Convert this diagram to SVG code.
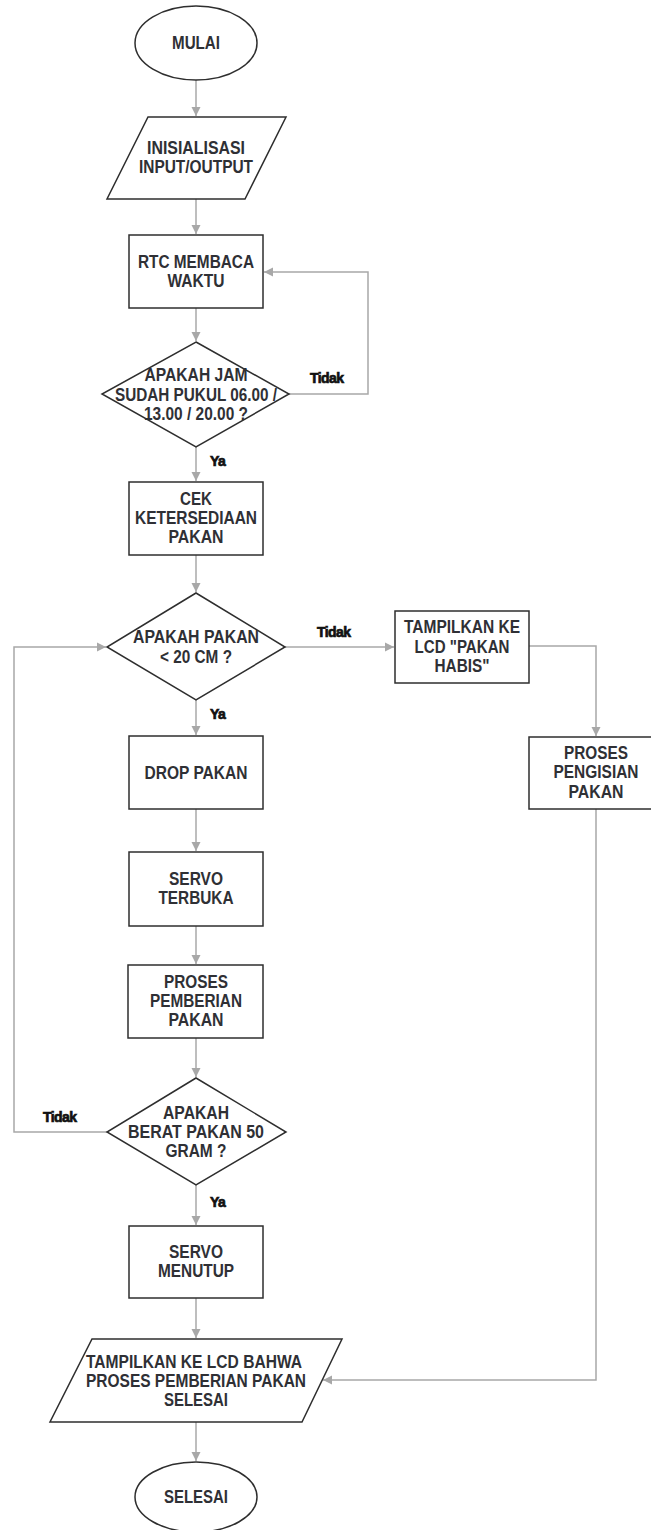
<svg xmlns="http://www.w3.org/2000/svg" width="651" height="1530" viewBox="0 0 651 1530">
<style>
.s{fill:#fff;stroke:#2e2e2e;stroke-width:1.5}
.t{font-family:"Liberation Sans",Arial,sans-serif;font-size:18px;font-weight:bold;fill:#2f3035;text-anchor:middle}
.c{fill:none;stroke:#a8a8a8;stroke-width:1.5}
.l{font-family:"Liberation Sans",Arial,sans-serif;font-size:14px;font-weight:bold;fill:#111;stroke:#111;stroke-width:0.7;letter-spacing:-0.6px}
</style>
<defs>
<marker id="a" markerUnits="userSpaceOnUse" markerWidth="10" markerHeight="10" refX="9" refY="5" orient="auto">
<path d="M0,0.5 L9,5 L0,9.5 z" fill="#a8a8a8"/>
</marker>
</defs>
<rect width="651" height="1530" fill="#fff"/>
<g id="connectors">
<path class="c" d="M196,80 V116" marker-end="url(#a)"/>
<path class="c" d="M196,199 V234" marker-end="url(#a)"/>
<path class="c" d="M196,308 V341" marker-end="url(#a)"/>
<path class="c" d="M289,394 H368 V272 H264" marker-end="url(#a)"/>
<path class="c" d="M196,447 V481" marker-end="url(#a)"/>
<path class="c" d="M196,555 V592" marker-end="url(#a)"/>
<path class="c" d="M285,647 H394" marker-end="url(#a)"/>
<path class="c" d="M529,646 H596 V736" marker-end="url(#a)"/>
<path class="c" d="M196,700 V735" marker-end="url(#a)"/>
<path class="c" d="M196,809 V851" marker-end="url(#a)"/>
<path class="c" d="M196,926 V964" marker-end="url(#a)"/>
<path class="c" d="M196,1038 V1077" marker-end="url(#a)"/>
<path class="c" d="M107,1132 H14 V647 H106" marker-end="url(#a)"/>
<path class="c" d="M196,1185 V1225" marker-end="url(#a)"/>
<path class="c" d="M196,1298 V1338" marker-end="url(#a)"/>
<path class="c" d="M596,809 V1380 H323" marker-end="url(#a)"/>
<path class="c" d="M196,1422 V1461" marker-end="url(#a)"/>
<text class="l" x="310" y="383">Tidak</text>
<text class="l" x="317" y="637">Tidak</text>
<text class="l" x="43" y="1122">Tidak</text>
<text class="l" x="210" y="466">Ya</text>
<text class="l" x="210" y="719">Ya</text>
<text class="l" x="210" y="1207">Ya</text>
</g>
<g id="mulai">
<ellipse class="s" cx="196" cy="43" rx="61" ry="37"/>
<text class="t" x="196" y="49" textLength="48" lengthAdjust="spacingAndGlyphs">MULAI</text>
</g>
<g id="inisialisasi">
<polygon class="s" points="148,117 286,117 245,199 107,199"/>
<text class="t" x="196" y="154" textLength="98" lengthAdjust="spacingAndGlyphs">INISIALISASI</text>
<text class="t" x="196" y="173" textLength="114" lengthAdjust="spacingAndGlyphs">INPUT/OUTPUT</text>
</g>
<g id="rtc">
<rect class="s" x="129" y="235" width="134" height="73"/>
<text class="t" x="196" y="268" textLength="116" lengthAdjust="spacingAndGlyphs">RTC MEMBACA</text>
<text class="t" x="196" y="287" textLength="57" lengthAdjust="spacingAndGlyphs">WAKTU</text>
</g>
<g id="cek-jam">
<polygon class="s" points="196,342 289,394 196,447 102,394"/>
<text class="t" x="196" y="381" textLength="103" lengthAdjust="spacingAndGlyphs">APAKAH JAM</text>
<text class="t" x="196" y="401" textLength="162" lengthAdjust="spacingAndGlyphs">SUDAH PUKUL 06.00 /</text>
<text class="t" x="196" y="420" textLength="104" lengthAdjust="spacingAndGlyphs">13.00 / 20.00 ?</text>
</g>
<g id="cek-ketersediaan">
<rect class="s" x="129" y="482" width="134" height="73"/>
<text class="t" x="196" y="505" textLength="32" lengthAdjust="spacingAndGlyphs">CEK</text>
<text class="t" x="196" y="524" textLength="122" lengthAdjust="spacingAndGlyphs">KETERSEDIAAN</text>
<text class="t" x="196" y="543" textLength="55" lengthAdjust="spacingAndGlyphs">PAKAN</text>
</g>
<g id="cek-pakan">
<polygon class="s" points="196,593 285,647 196,700 107,647"/>
<text class="t" x="196" y="643" textLength="126" lengthAdjust="spacingAndGlyphs">APAKAH PAKAN</text>
<text class="t" x="196" y="663" textLength="72" lengthAdjust="spacingAndGlyphs">&lt; 20 CM ?</text>
</g>
<g id="pakan-habis">
<rect class="s" x="395" y="611" width="134" height="72"/>
<text class="t" x="462" y="633" textLength="116" lengthAdjust="spacingAndGlyphs">TAMPILKAN KE</text>
<text class="t" x="462" y="653" textLength="95" lengthAdjust="spacingAndGlyphs">LCD "PAKAN</text>
<text class="t" x="462" y="672" textLength="55" lengthAdjust="spacingAndGlyphs">HABIS"</text>
</g>
<g id="pengisian">
<rect class="s" x="529" y="737" width="134" height="72"/>
<text class="t" x="596" y="759" textLength="64" lengthAdjust="spacingAndGlyphs">PROSES</text>
<text class="t" x="596" y="778" textLength="85" lengthAdjust="spacingAndGlyphs">PENGISIAN</text>
<text class="t" x="596" y="798" textLength="55" lengthAdjust="spacingAndGlyphs">PAKAN</text>
</g>
<g id="drop">
<rect class="s" x="129" y="736" width="134" height="73"/>
<text class="t" x="196" y="779" textLength="103" lengthAdjust="spacingAndGlyphs">DROP PAKAN</text>
</g>
<g id="servo-buka">
<rect class="s" x="129" y="852" width="134" height="74"/>
<text class="t" x="196" y="885" textLength="54" lengthAdjust="spacingAndGlyphs">SERVO</text>
<text class="t" x="196" y="904" textLength="75" lengthAdjust="spacingAndGlyphs">TERBUKA</text>
</g>
<g id="pemberian">
<rect class="s" x="128" y="965" width="135" height="73"/>
<text class="t" x="196" y="988" textLength="64" lengthAdjust="spacingAndGlyphs">PROSES</text>
<text class="t" x="196" y="1007" textLength="92" lengthAdjust="spacingAndGlyphs">PEMBERIAN</text>
<text class="t" x="196" y="1026" textLength="55" lengthAdjust="spacingAndGlyphs">PAKAN</text>
</g>
<g id="cek-berat">
<polygon class="s" points="196,1078 286,1132 196,1185 107,1132"/>
<text class="t" x="196" y="1119" textLength="66" lengthAdjust="spacingAndGlyphs">APAKAH</text>
<text class="t" x="196" y="1138" textLength="136" lengthAdjust="spacingAndGlyphs">BERAT PAKAN 50</text>
<text class="t" x="196" y="1157" textLength="61" lengthAdjust="spacingAndGlyphs">GRAM ?</text>
</g>
<g id="servo-tutup">
<rect class="s" x="129" y="1226" width="134" height="72"/>
<text class="t" x="196" y="1258" textLength="54" lengthAdjust="spacingAndGlyphs">SERVO</text>
<text class="t" x="196" y="1277" textLength="76" lengthAdjust="spacingAndGlyphs">MENUTUP</text>
</g>
<g id="tampil-selesai">
<polygon class="s" points="92,1339 342,1339 302,1422 50,1422"/>
<text class="t" x="194" y="1368" textLength="216" lengthAdjust="spacingAndGlyphs">TAMPILKAN KE LCD BAHWA</text>
<text class="t" x="196" y="1387" textLength="220" lengthAdjust="spacingAndGlyphs">PROSES PEMBERIAN PAKAN</text>
<text class="t" x="196" y="1406" textLength="64" lengthAdjust="spacingAndGlyphs">SELESAI</text>
</g>
<g id="selesai">
<ellipse class="s" cx="196" cy="1497" rx="61" ry="35"/>
<text class="t" x="196" y="1503" textLength="64" lengthAdjust="spacingAndGlyphs">SELESAI</text>
</g>
</svg>
